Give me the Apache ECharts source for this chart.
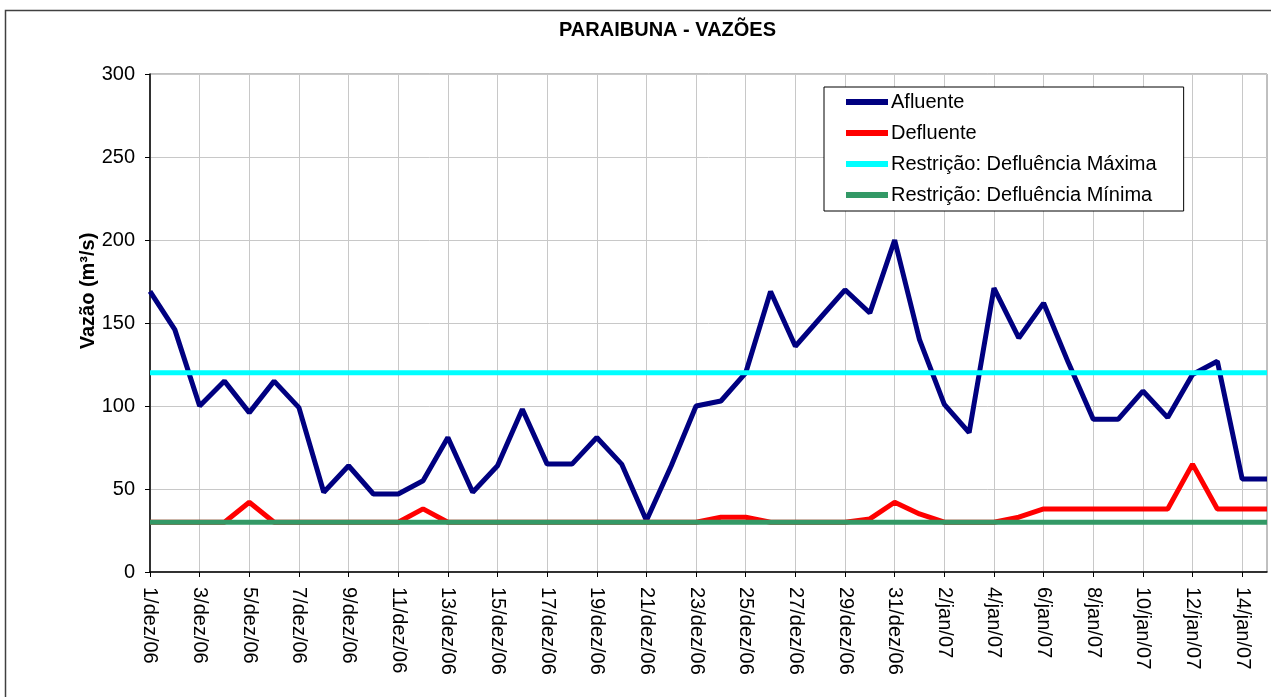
<!DOCTYPE html>
<html>
<head>
<meta charset="utf-8">
<script src="https://cdn.jsdelivr.net/npm/echarts@6/dist/echarts.min.js"></script>
<style>
html,body{margin:0;padding:0;background:#fff;}
#c{width:1271px;height:697px;}
</style>
</head>
<body>
<div id="c"></div>
<script>
const categories = [
  '1/dez/06','2/dez/06','3/dez/06','4/dez/06','5/dez/06','6/dez/06','7/dez/06','8/dez/06','9/dez/06','10/dez/06',
  '11/dez/06','12/dez/06','13/dez/06','14/dez/06','15/dez/06','16/dez/06','17/dez/06','18/dez/06','19/dez/06','20/dez/06',
  '21/dez/06','22/dez/06','23/dez/06','24/dez/06','25/dez/06','26/dez/06','27/dez/06','28/dez/06','29/dez/06','30/dez/06',
  '31/dez/06','1/jan/07','2/jan/07','3/jan/07','4/jan/07','5/jan/07','6/jan/07','7/jan/07','8/jan/07','9/jan/07',
  '10/jan/07','11/jan/07','12/jan/07','13/jan/07','14/jan/07','15/jan/07'
];
const afluente = [
  169,146,100,115,96,115,99,48,64,47,
  47,55,81,48,64,98,65,65,81,65,
  31,64,100,103,120,169,136,153,170,156,
  200,140,101,84,171,141,162,126,92,92,
  109,93,119,127,56,56
];
const defluente = [
  30,30,30,30,42,30,30,30,30,30,
  30,38,30,30,30,30,30,30,30,30,
  30,30,30,33,33,30,30,30,30,32,
  42,35,30,30,30,33,38,38,38,38,
  38,38,65,38,38,38
];
const restricaoMax = categories.map(() => 120);
const restricaoMin = categories.map(() => 30);
const yTicks = [0, 50, 100, 150, 200, 250, 300];

const font = 'Liberation Sans, Arial, sans-serif';
const chart = echarts.init(document.getElementById('c'), null, {renderer: 'canvas'});
chart.setOption({
  animation: false,
  backgroundColor: '#fff',
  textStyle: {fontFamily: font},
  graphic: [{
    type: 'rect', left: 3, top: 8, z: -10, silent: true,
    shape: {width: 1290, height: 720},
    style: {fill: 'none', stroke: '#404040', lineWidth: 1.5}
  }],
  title: {
    text: 'PARAIBUNA - VAZÕES', left: 554, top: 15,
    textStyle: {fontFamily: font, fontSize: 20, fontWeight: 'bold', color: '#000'}
  },
  legend: {
    orient: 'vertical', left: 824, top: 87,
    backgroundColor: '#fff', borderColor: '#000', borderWidth: 1,
    padding: [5, 27, 6, 22],
    itemWidth: 42, itemHeight: 6, itemGap: 11, icon: 'rect',
    textStyle: {fontFamily: font, fontSize: 20, color: '#000', padding: [0, 0, 0, -2]},
    data: ['Afluente', 'Defluente', 'Restrição: Defluência Máxima', 'Restrição: Defluência Mínima']
  },
  grid: {
    left: 150, top: 74, right: 4, bottom: 125,
    show: true, borderColor: '#808080', borderWidth: 1, backgroundColor: '#fff'
  },
  xAxis: {
    type: 'category', data: categories, boundaryGap: false,
    axisLine: {lineStyle: {color: '#000', width: 1.5}},
    axisTick: {show: true, interval: 1, length: 5, lineStyle: {color: '#000'}},
    axisLabel: {interval: 1, rotate: -90, fontSize: 20, color: '#000', margin: 15, fontFamily: font},
    splitLine: {show: true, interval: 1, lineStyle: {color: '#c8c8c8', width: 1}}
  },
  yAxis: {
    type: 'value', min: yTicks[0], max: yTicks[yTicks.length - 1], interval: 50,
    name: 'Vazão (m³/s)', nameLocation: 'middle', nameRotate: 90, nameGap: 52,
    nameMoveOverlap: false,
    nameTextStyle: {fontFamily: font, fontSize: 20, fontWeight: 'bold', color: '#000', padding: [0, 0, 0, 64]},
    axisLine: {show: true, lineStyle: {color: '#000', width: 1.5}},
    axisTick: {show: true, length: 5, lineStyle: {color: '#000'}},
    axisLabel: {fontSize: 20, color: '#000', margin: 15, fontFamily: font},
    splitLine: {show: true, lineStyle: {color: '#c8c8c8', width: 1}}
  },
  series: [
    {name: 'Afluente', type: 'line', data: afluente, symbol: 'none',
     lineStyle: {color: '#000080', width: 5}, itemStyle: {color: '#000080'}},
    {name: 'Defluente', type: 'line', data: defluente, symbol: 'none',
     lineStyle: {color: '#ff0000', width: 5}, itemStyle: {color: '#ff0000'}},
    {name: 'Restrição: Defluência Máxima', type: 'line', data: restricaoMax, symbol: 'none',
     lineStyle: {color: '#00ffff', width: 5}, itemStyle: {color: '#00ffff'}},
    {name: 'Restrição: Defluência Mínima', type: 'line', data: restricaoMin, symbol: 'none',
     lineStyle: {color: '#339966', width: 5}, itemStyle: {color: '#339966'}}
  ]
});
</script>
</body>
</html>
